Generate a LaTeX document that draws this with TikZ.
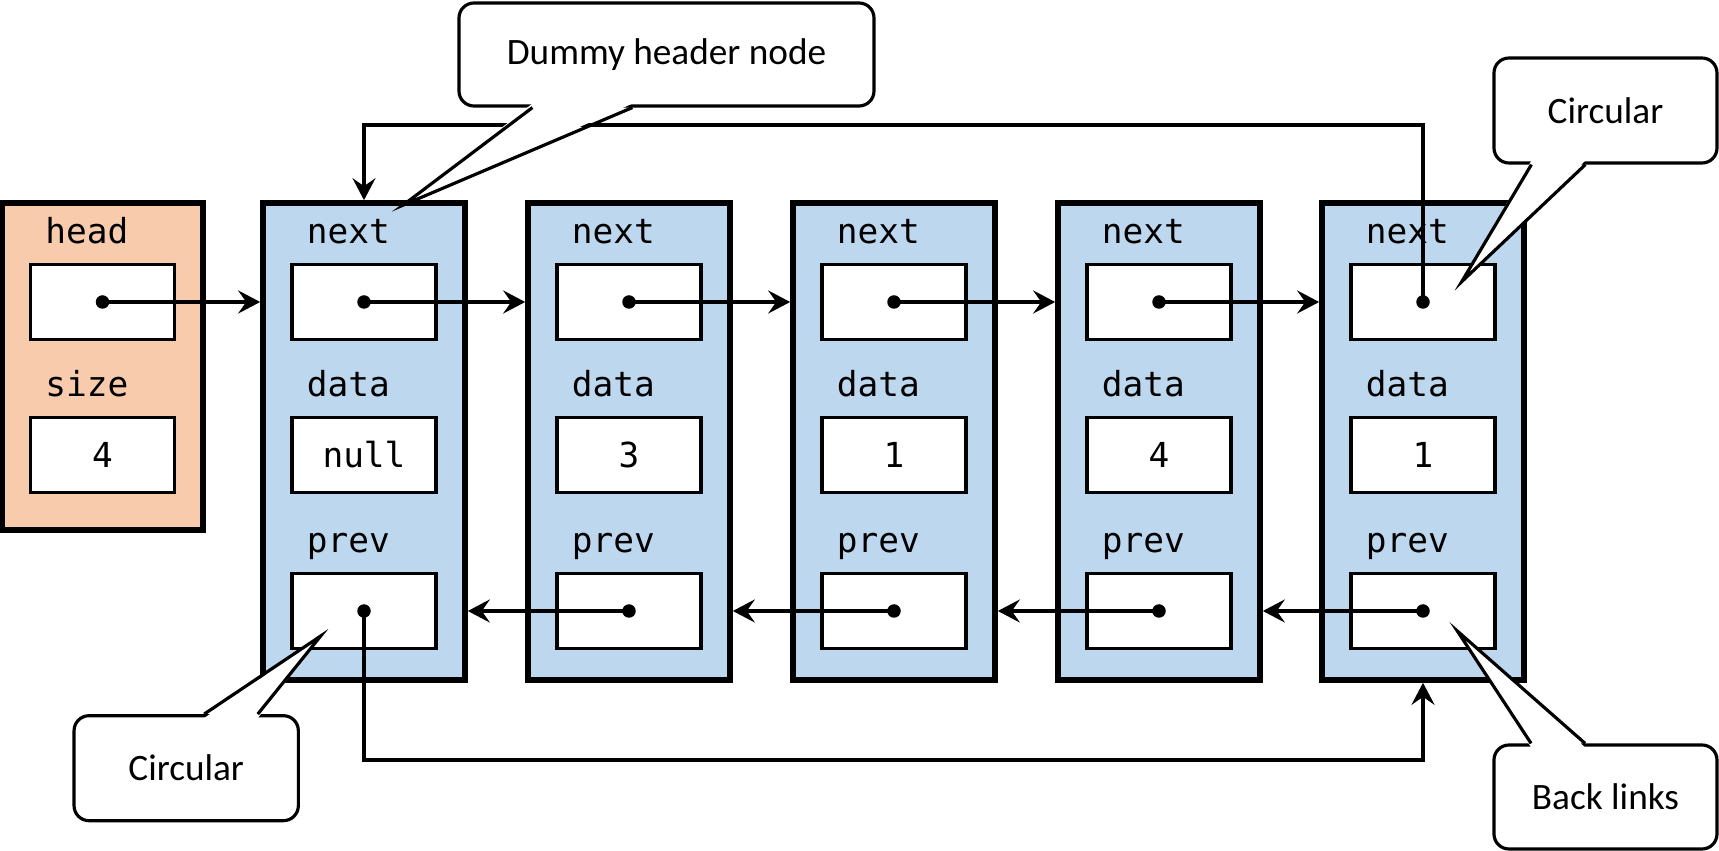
\documentclass[tikz,border=0pt]{standalone}
\usepackage{fontspec}
\newfontfamily\fieldfont{DejaVu Sans Mono}
\newfontfamily\notefont{Carlito}
\usetikzlibrary{positioning,arrows.meta}
\definecolor{nodeblue}{HTML}{BDD7EE}
\definecolor{headpeach}{HTML}{F8CBAD}

\begin{document}
\begin{tikzpicture}[
 listnode/.style = {draw, line width=1.6pt, fill=nodeblue, minimum width=2.02cm, minimum height=4.77cm, inner sep=0pt},
 headnode/.style = {draw, line width=1.6pt, fill=headpeach, minimum width=2.01cm, minimum height=3.27cm, inner sep=0pt},
 field/.style = {draw, line width=1.05pt, fill=white, minimum width=1.44cm, minimum height=0.75cm, inner sep=0pt, font={\fieldfont\fontsize{9.8}{11}\selectfont}},
 fieldlabel/.style = {anchor=base west, inner sep=0pt, xshift=0.16cm, font={\fieldfont\fontsize{9.8}{11}\selectfont}},
 ptrdot/.style = {circle, fill, inner sep=0pt, minimum size=0.135cm},
 ptr/.style = {-{Stealth[length=2.2mm, width=2.3mm, inset=0.8mm]}, line width=0.9pt},
 note/.style = {draw, line width=0.9pt, fill=white, rounded corners=0.15cm, minimum width=2.23cm, minimum height=1.05cm, inner sep=0pt, font={\notefont\fontsize{10.6}{13}\selectfont}},
 ]
 \useasboundingbox (0,0) rectangle (17.19,8.51);

 \node [headnode] (head) at (1.025,4.845) {};
 \node [field] (hnext) at (1.025,5.49) {};
 \node [field] (hsize) at (1.025,3.96) {4};
 \node [above=0.19cm of hnext.north west, fieldlabel] (hnextlbl) {head};
 \node [above=0.19cm of hsize.north west, fieldlabel] (hsizelbl) {size};
 \node [ptrdot] (hdot) at (hnext) {};

 \node [listnode] (n1) at (3.64,4.095) {};
 \node [field] (n1next) at (3.64,5.49) {};
 \node [field] (n1data) at (3.64,3.96) {null};
 \node [field] (n1prev) at (3.64,2.40) {};
 \node [above=0.19cm of n1next.north west, fieldlabel] (n1nextlbl) {next};
 \node [above=0.19cm of n1data.north west, fieldlabel] (n1datalbl) {data};
 \node [above=0.19cm of n1prev.north west, fieldlabel] (n1prevlbl) {prev};
 \node [ptrdot] (n1nd) at (n1next) {};
 \node [ptrdot] (n1pd) at (n1prev) {};

 \node [listnode] (n2) at (6.29,4.095) {};
 \node [field] (n2next) at (6.29,5.49) {};
 \node [field] (n2data) at (6.29,3.96) {3};
 \node [field] (n2prev) at (6.29,2.40) {};
 \node [above=0.19cm of n2next.north west, fieldlabel] (n2nextlbl) {next};
 \node [above=0.19cm of n2data.north west, fieldlabel] (n2datalbl) {data};
 \node [above=0.19cm of n2prev.north west, fieldlabel] (n2prevlbl) {prev};
 \node [ptrdot] (n2nd) at (n2next) {};
 \node [ptrdot] (n2pd) at (n2prev) {};

 \node [listnode] (n3) at (8.94,4.095) {};
 \node [field] (n3next) at (8.94,5.49) {};
 \node [field] (n3data) at (8.94,3.96) {1};
 \node [field] (n3prev) at (8.94,2.40) {};
 \node [above=0.19cm of n3next.north west, fieldlabel] (n3nextlbl) {next};
 \node [above=0.19cm of n3data.north west, fieldlabel] (n3datalbl) {data};
 \node [above=0.19cm of n3prev.north west, fieldlabel] (n3prevlbl) {prev};
 \node [ptrdot] (n3nd) at (n3next) {};
 \node [ptrdot] (n3pd) at (n3prev) {};

 \node [listnode] (n4) at (11.59,4.095) {};
 \node [field] (n4next) at (11.59,5.49) {};
 \node [field] (n4data) at (11.59,3.96) {4};
 \node [field] (n4prev) at (11.59,2.40) {};
 \node [above=0.19cm of n4next.north west, fieldlabel] (n4nextlbl) {next};
 \node [above=0.19cm of n4data.north west, fieldlabel] (n4datalbl) {data};
 \node [above=0.19cm of n4prev.north west, fieldlabel] (n4prevlbl) {prev};
 \node [ptrdot] (n4nd) at (n4next) {};
 \node [ptrdot] (n4pd) at (n4prev) {};

 \node [listnode] (n5) at (14.23,4.095) {};
 \node [field] (n5next) at (14.23,5.49) {};
 \node [field] (n5data) at (14.23,3.96) {1};
 \node [field] (n5prev) at (14.23,2.40) {};
 \node [above=0.19cm of n5next.north west, fieldlabel] (n5nextlbl) {next};
 \node [above=0.19cm of n5data.north west, fieldlabel] (n5datalbl) {data};
 \node [above=0.19cm of n5prev.north west, fieldlabel] (n5prevlbl) {prev};
 \node [ptrdot] (n5nd) at (n5next) {};
 \node [ptrdot] (n5pd) at (n5prev) {};

 \draw [ptr] (hdot.center) -- (hdot.center -| n1.west);
 \draw [ptr] (n1nd.center) -- (n1nd.center -| n2.west);
 \draw [ptr] (n2nd.center) -- (n2nd.center -| n3.west);
 \draw [ptr] (n3nd.center) -- (n3nd.center -| n4.west);
 \draw [ptr] (n4nd.center) -- (n4nd.center -| n5.west);
 \draw [ptr] (n2pd.center) -- (n2pd.center -| n1.east);
 \draw [ptr] (n3pd.center) -- (n3pd.center -| n2.east);
 \draw [ptr] (n4pd.center) -- (n4pd.center -| n3.east);
 \draw [ptr] (n5pd.center) -- (n5pd.center -| n4.east);

 \coordinate (looptop) at (0,7.26);
 \coordinate (loopbot) at (0,0.91);
 \draw [ptr] (n5nd.center) -- (n5nd.center |- looptop) -| (n1.north);
 \draw [ptr] (n1pd.center) -- (n1pd.center |- loopbot) -| (n5.south);

 \node [note, minimum width=4.15cm, minimum height=1.03cm] (dummy) at (6.665,7.965) {Dummy header node};
 \coordinate (dummya) at ([xshift=0.75cm]dummy.south west);
 \coordinate (dummyb) at ([xshift=1.75cm]dummy.south west);
 \coordinate (dummytip) at ([xshift=0.39cm, yshift=-0.05cm]n1.north);
 \fill [white] ([yshift=0.04cm]dummya) -- (dummytip) -- ([yshift=0.04cm]dummyb) -- cycle;
 \draw [line width=0.9pt] (dummya) -- (dummytip) -- (dummyb);

 \node [note] (circtop) at (16.055,7.405) {Circular};
 \coordinate (circtopa) at ([xshift=0.39cm]circtop.south west);
 \coordinate (circtopb) at ([xshift=0.93cm]circtop.south west);
 \coordinate (circtoptip) at ([xshift=0.387cm, yshift=0.203cm]n5next.center);
 \fill [white] ([yshift=0.04cm]circtopa) -- (circtoptip) -- ([yshift=0.04cm]circtopb) -- cycle;
 \draw [line width=0.9pt] (circtopa) -- (circtoptip) -- (circtopb);

 \node [note, minimum width=2.243cm] (circbot) at (1.862,0.828) {Circular};
 \coordinate (circbota) at ([xshift=1.317cm]circbot.north west);
 \coordinate (circbotb) at ([xshift=1.853cm]circbot.north west);
 \coordinate (circbottip) at ([xshift=-0.433cm, yshift=-0.25cm]n1prev.center);
 \fill [white] ([yshift=-0.04cm]circbota) -- (circbottip) -- ([yshift=-0.04cm]circbotb) -- cycle;
 \draw [line width=0.9pt] (circbota) -- (circbottip) -- (circbotb);

 \node [note, minimum height=1.04cm] (backlinks) at (16.055,0.54) {Back links};
 \coordinate (backlinksa) at ([xshift=0.387cm]backlinks.north west);
 \coordinate (backlinksb) at ([xshift=0.927cm]backlinks.north west);
 \coordinate (backlinkstip) at ([xshift=0.343cm, yshift=-0.2cm]n5prev.center);
 \fill [white] ([yshift=-0.04cm]backlinksa) -- (backlinkstip) -- ([yshift=-0.04cm]backlinksb) -- cycle;
 \draw [line width=0.9pt] (backlinksa) -- (backlinkstip) -- (backlinksb);

\end{tikzpicture}
\end{document}
